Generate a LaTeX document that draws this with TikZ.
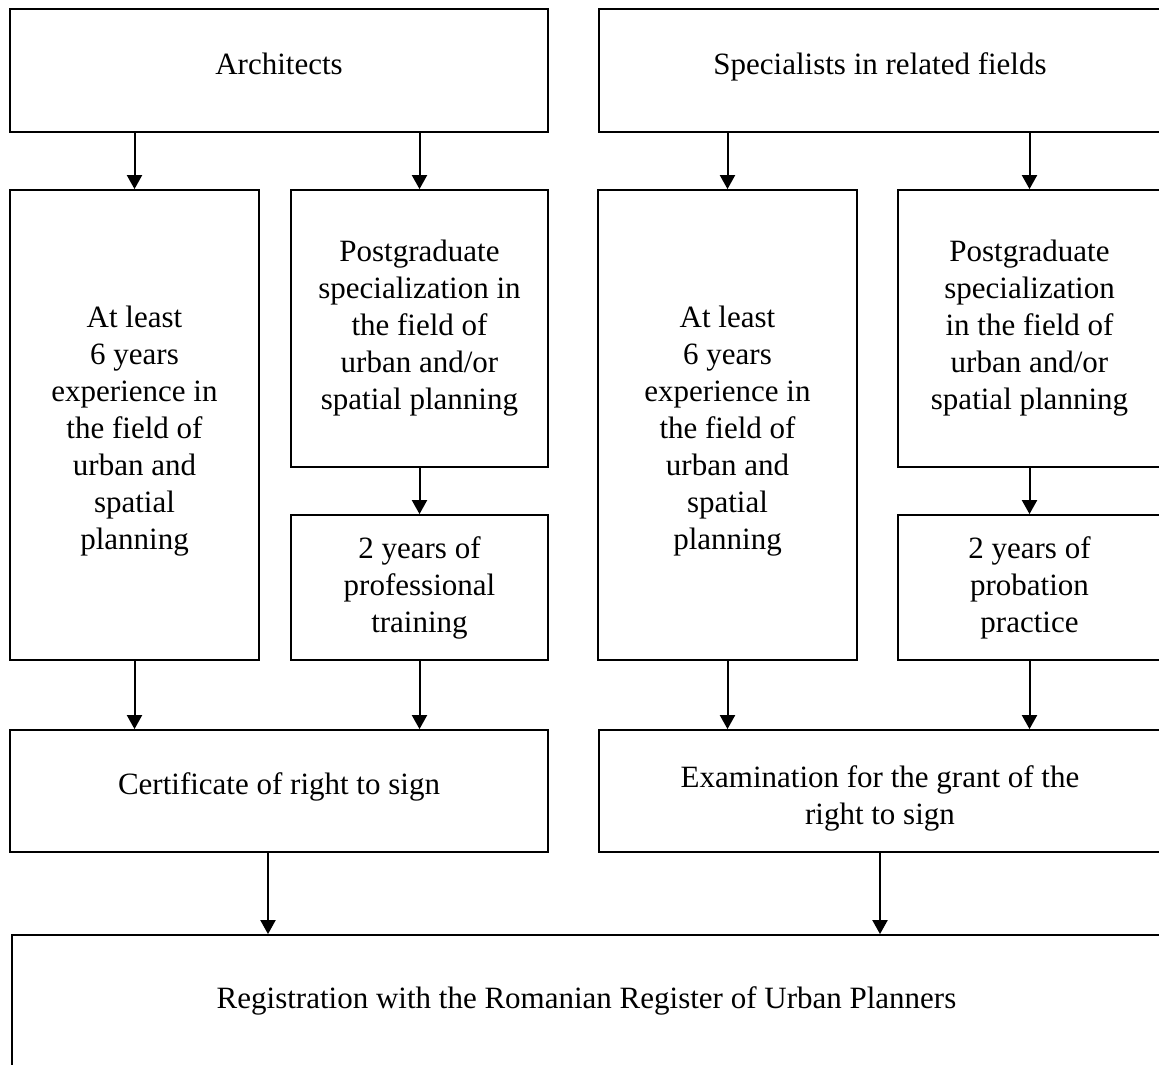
\documentclass[tikz,border=0pt]{standalone}
\usepackage{fontspec}
\setmainfont{Liberation Serif}
\usetikzlibrary{arrows.meta,positioning}
\newcommand{\lift}[1]{\rule{0pt}{#1}}

\begin{document}
\begin{tikzpicture}[
  x=1pt, y=1pt,
  box/.style={draw, line width=1.8pt, align=center, inner sep=0pt,
              font=\fontsize{31}{37}\selectfont},
  one/.style={box, text height=21pt, text depth=13.4pt},
  arr/.style={-{Triangle[length=14pt,width=15pt]}, line width=2pt}]

\useasboundingbox (0,0) rectangle (1159,-1065);

\node[one, minimum width=538, minimum height=123] (arch) at (279,-70.5)
  {Architects};
\node[one, minimum width=562, minimum height=123] (spec) at (880,-70.5)
  {Specialists in related fields};

\node[box, minimum width=249, minimum height=470] (expA) at (134.5,-425)
  {\lift{33pt}At least\\ 6 years\\ experience in\\ the field of\\
   urban and\\ spatial\\ planning};
\node[box, minimum width=257, minimum height=277] (pgA) at (419.5,-328.5)
  {Postgraduate\\ specialization in\\ the field of\\ urban and/or\\
   spatial planning};
\node[box, minimum width=257, minimum height=145] (trA) at (419.5,-587.5)
  {2 years of\\ professional\\ training};

\node[box, minimum width=259, minimum height=470] (expB) at (727.5,-425)
  {\lift{34pt}At least\\ 6 years\\ experience in\\ the field of\\
   urban and\\ spatial\\ planning};
\node[box, minimum width=263, minimum height=277] (pgB) at (1029.5,-328.5)
  {Postgraduate\\ specialization\\ in the field of\\ urban and/or\\
   spatial planning};
\node[box, minimum width=263, minimum height=145] (prB) at (1029.5,-587.5)
  {2 years of\\ probation\\ practice};

\node[one, minimum width=538, minimum height=122] (cert) at (279,-791)
  {Certificate of right to sign};
\node[box, minimum width=562, minimum height=122] (exam) at (880,-791)
  {\lift{37pt}Examination for the grant of the\\ right to sign};

\node[box, text height=21pt, text depth=6pt, minimum width=1149,
      minimum height=131] (reg) at (586.5,-1000.5)
  {Registration with the Romanian Register of Urban Planners};

\draw[arr] (arch.south -| expA.north) -- (expA.north);
\draw[arr] (arch.south -| pgA.north) -- (pgA.north);
\draw[arr] (spec.south -| expB.north) -- (expB.north);
\draw[arr] (spec.south -| pgB.north) -- (pgB.north);
\draw[arr] (pgA) -- (trA);
\draw[arr] (pgB) -- (prB);
\draw[arr] (expA.south) -- (cert.north -| expA.south);
\draw[arr] (trA.south) -- (cert.north -| trA.south);
\draw[arr] (expB.south) -- (exam.north -| expB.south);
\draw[arr] (prB.south) -- (exam.north -| prB.south);
\draw[arr] ([xshift=-11pt]cert.south) -- ([xshift=-11pt]cert.south |- reg.north);
\draw[arr] (exam.south) -- (exam.south |- reg.north);
\end{tikzpicture}
\end{document}
